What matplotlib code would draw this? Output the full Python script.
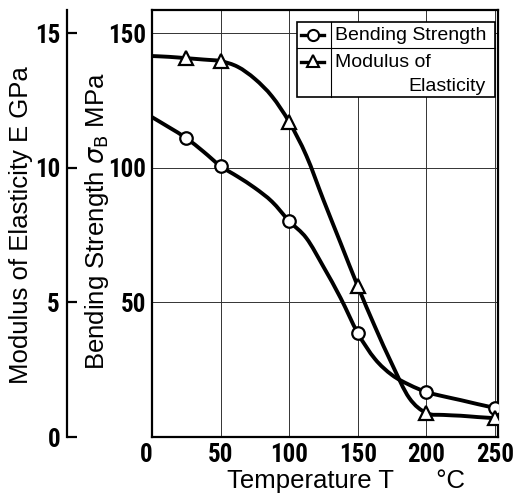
import matplotlib
matplotlib.use("Agg")
import matplotlib.pyplot as plt
from matplotlib import font_manager
from matplotlib.lines import Line2D
from matplotlib.patches import Rectangle, PathPatch
from matplotlib.path import Path
from matplotlib.transforms import ScaledTranslation

# --- data ---
marker_temp = [25, 50, 100, 150, 200, 250]
bending_pts = [111, 100.6, 80.2, 38.6, 16.7, 10.8]          # MPa
modulus_pts = [14.07, 13.96, 11.7, 5.6, 0.89, 0.70]          # GPa

# hand-drawn curves
curve_temp = [0, 12.5, 25, 37.5, 50, 62.5, 75, 87.5, 100, 112.5, 125,
              137.5, 150, 162.5, 175, 187.5, 200, 212.5, 225, 237.5, 250]
bending_curve = [118.8, 115, 111, 106, 100.6, 96.7, 92.5, 87.4, 80.2, 73.9, 63.2,
                 51.6, 38.6, 29, 23, 19.4, 16.7, 15.1, 13.7, 12.2, 10.8]
modulus_curve = [14.15, 14.12, 14.07, 14.02, 13.96, 13.75, 13.3, 12.65, 11.7, 10.45, 8.8,
                 7.2, 5.6, 4.1, 2.7, 1.45, 0.89, 0.82, 0.79, 0.74, 0.70]

x_ticks = [0, 50, 100, 150, 200, 250]
bend_ticks = [50, 100, 150]
mod_ticks = [0, 5, 10, 15]

XMAX = 252.2
YMAX = 158.6   # MPa at the top of the frame

# pick a narrow face for the tick numbers if there is one
installed = {f.name for f in font_manager.fontManager.ttflist}
narrow = [n for n in ["Liberation Sans Narrow", "DejaVu Sans Condensed",
                      "Roboto Condensed", "Open Sans Condensed"] if n in installed]
if narrow:
    tick_font = dict(family=[narrow[0], "DejaVu Sans"], weight="bold", size=18)
else:
    tick_font = dict(family=["Liberation Sans", "DejaVu Sans"], weight="bold", size=15)
label_font = dict(family=["Liberation Sans", "DejaVu Sans"], size=18.5)
plt.rcParams["mathtext.fontset"] = "dejavusans"


def smooth_path(xs, ys):
    # Catmull-Rom through the traced points, drawn as cubic Bezier segments
    verts = [(xs[0], ys[0])]
    codes = [Path.MOVETO]
    n = len(xs)
    for i in range(n - 1):
        x0, y0 = (xs[i - 1], ys[i - 1]) if i > 0 else (xs[i], ys[i])
        x1, y1 = xs[i], ys[i]
        x2, y2 = xs[i + 1], ys[i + 1]
        x3, y3 = (xs[i + 2], ys[i + 2]) if i + 2 < n else (x2, y2)
        verts += [(x1 + (x2 - x0) / 6, y1 + (y2 - y0) / 6),
                  (x2 - (x3 - x1) / 6, y2 - (y3 - y1) / 6),
                  (x2, y2)]
        codes += [Path.CURVE4] * 3
    return Path(verts, codes)


fig = plt.figure(figsize=(5.14, 4.94), dpi=100)
W, H = 514, 494
box = [152 / W, 57 / H, 346 / W, 427 / H]

# --- main axes : bending strength ---
ax = fig.add_axes(box)
ax.set_xlim(0, XMAX)
ax.set_ylim(0, YMAX)
ax.set_xticks(x_ticks)
ax.set_yticks(bend_ticks)
ax.set_xticklabels([str(v) for v in x_ticks], **tick_font)
ax.set_yticklabels([str(v) for v in bend_ticks], **tick_font)
ax.tick_params(length=0, pad=4)
ax.grid(True, color="#333333", linewidth=0.7)
for s in ax.spines.values():
    s.set_linewidth(1.6)
# the shared corner "0" sits a little to the left in the original
zero = ax.get_xticklabels()[0]
zero.set_transform(zero.get_transform() + ScaledTranslation(-6 / 100, 0, fig.dpi_scale_trans))

ax.add_patch(PathPatch(smooth_path(curve_temp, bending_curve), facecolor="none",
                       edgecolor="black", linewidth=2.8, zorder=3))
ax.plot(marker_temp, bending_pts, linestyle="none", marker="o", markersize=9,
        markerfacecolor="white", markeredgecolor="black", markeredgewidth=1.6, zorder=4)

# --- twin axes for modulus (same frame, GPa scale) ---
ax2 = ax.twinx()
ax2.set_ylim(0, YMAX / 10)
ax2.axis("off")
ax2.add_patch(PathPatch(smooth_path(curve_temp, modulus_curve), facecolor="none",
                        edgecolor="black", linewidth=2.8, zorder=3))
ax2.plot(marker_temp, modulus_pts, linestyle="none", marker="^", markersize=10,
         markerfacecolor="white", markeredgecolor="black", markeredgewidth=1.6, zorder=4)

# --- outer left axis : modulus of elasticity ---
axo = fig.add_axes([67 / W, box[1], 0.001, box[3]])
axo.set_ylim(0, YMAX / 10)
axo.patch.set_visible(False)
for k in ("top", "right", "bottom"):
    axo.spines[k].set_visible(False)
axo.spines["left"].set_linewidth(1.6)
axo.set_xticks([])
axo.set_yticks(mod_ticks)
axo.set_yticklabels([str(v) for v in mod_ticks], **tick_font)
axo.tick_params(axis="y", direction="in", length=7, width=1.6, pad=5)

# --- axis titles ---
fig.text(21 / W, 1 - 225 / H, "Modulus of Elasticity E GPa", rotation=90,
         ha="center", va="center", **label_font)
fig.text(97 / W, 1 - 221 / H, r"Bending Strength $\sigma_{\rm B}$ MPa", rotation=90,
         ha="center", va="center", **label_font)
fig.text(346 / W, 1 - 481 / H, "Temperature T      °C",
         ha="center", va="center", **label_font)

# --- boxed legend ---
def ax_x(px):
    return (px - 152) / 346


def ax_y(py):
    return 1 - (py - 10) / 427


lt = ax2.transAxes
leg_font = dict(family=["Liberation Sans", "DejaVu Sans"], size=14)
ax2.add_patch(Rectangle((ax_x(297), ax_y(97)), ax_x(495) - ax_x(297), ax_y(22) - ax_y(97),
                        transform=lt, facecolor="white", edgecolor="black",
                        linewidth=1.2, zorder=5, clip_on=False))
ax2.add_line(Line2D([ax_x(297), ax_x(495)], [ax_y(48), ax_y(48)], transform=lt,
                    color="black", linewidth=0.8, zorder=6))
ax2.add_line(Line2D([ax_x(331), ax_x(331)], [ax_y(22), ax_y(97)], transform=lt,
                    color="black", linewidth=0.8, zorder=6))
ax2.add_line(Line2D([ax_x(301), ax_x(324)], [ax_y(35), ax_y(35)], transform=lt,
                    color="black", linewidth=2.4, zorder=6))
ax2.add_line(Line2D([ax_x(312.5)], [ax_y(35)], transform=lt, marker="o", markersize=8,
                    markerfacecolor="white", markeredgecolor="black",
                    markeredgewidth=1.5, zorder=7))
ax2.add_line(Line2D([ax_x(301), ax_x(324)], [ax_y(62), ax_y(62)], transform=lt,
                    color="black", linewidth=2.4, zorder=6))
ax2.add_line(Line2D([ax_x(312.5)], [ax_y(61)], transform=lt, marker="^", markersize=8,
                    markerfacecolor="white", markeredgecolor="black",
                    markeredgewidth=1.5, zorder=7))
ax2.text(ax_x(335), ax_y(35), "Bending Strength", transform=lt, ha="left", va="center",
         zorder=7, **leg_font)
ax2.text(ax_x(335), ax_y(62), "Modulus of", transform=lt, ha="left", va="center",
         zorder=7, **leg_font)
ax2.text(ax_x(486), ax_y(86), "Elasticity", transform=lt, ha="right", va="center",
         zorder=7, **leg_font)

fig.savefig("out.png", dpi=100)
